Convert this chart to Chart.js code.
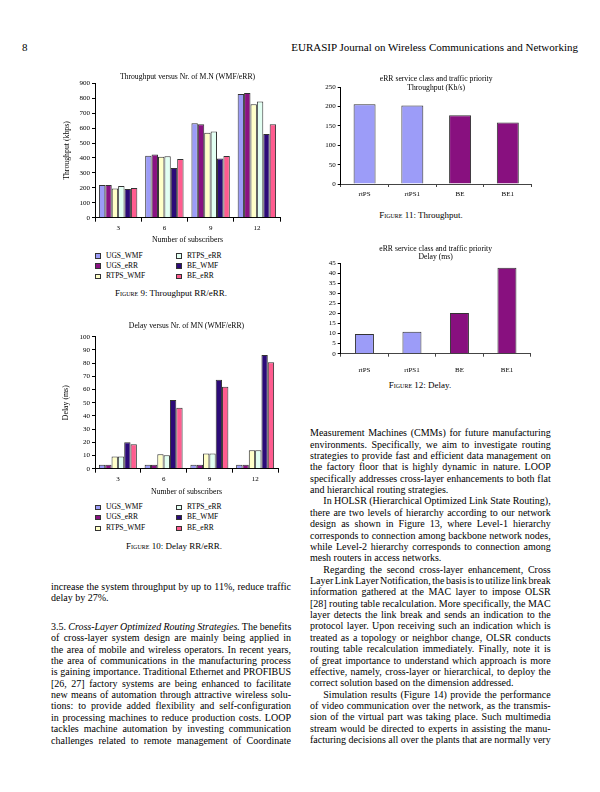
<!DOCTYPE html>
<html><head><meta charset="utf-8">
<script src="https://cdn.jsdelivr.net/npm/chart.js@4/dist/chart.umd.min.js"></script>
<style>
body{margin:0;background:#fff;width:600px;height:792px;position:relative;overflow:hidden;font-family:'Liberation Serif',serif;color:#000}
canvas{position:absolute}
.ln{position:absolute;white-space:nowrap;font-size:10px;line-height:11.37px}
.hdr{position:absolute;font-size:11px;line-height:13px;white-space:nowrap}
.cap{position:absolute;font-size:9px;line-height:11px;white-space:nowrap;transform:translateX(-50%)}
.cap .sc{font-variant:small-caps}
.lg{position:absolute;font-size:7.5px;line-height:10px;white-space:nowrap}
.mk{position:absolute;width:3.5px;height:3.5px;border:1px solid #333}
</style></head>
<body>
<div class="hdr" style="left:22px;top:41px">8</div>
<div class="hdr" style="right:22px;top:41px">EURASIP Journal on Wireless Communications and Networking</div>

<canvas id="c1" width="250" height="185" style="left:40px;top:65px"></canvas>
<div id="lg1"></div>
<div class="cap" style="left:171px;top:288px"><span class="sc">Figure</span> 9: Throughput RR/eRR.</div>

<canvas id="c2" width="250" height="185" style="left:40px;top:315px"></canvas>
<div id="lg2"></div>
<div class="cap" style="left:174px;top:541px"><span class="sc">Figure</span> 10: Delay RR/eRR.</div>

<canvas id="c3" width="240" height="135" style="left:300px;top:65px"></canvas>
<div class="cap" style="left:421px;top:209.5px"><span class="sc">Figure</span> 11: Throughput.</div>

<canvas id="c4" width="240" height="145" style="left:300px;top:235px"></canvas>
<div class="cap" style="left:420px;top:379.5px"><span class="sc">Figure</span> 12: Delay.</div>

<script>
// ---- data ----
const subscribers = ['3', '6', '9', '12'];
const seriesNames = ['UGS_WMF', 'UGS_eRR', 'RTPS_WMF', 'RTPS_eRR', 'BE_WMF', 'BE_eRR'];

// Figure 9: throughput (kbps)
const tpUGS_WMF  = [219, 415, 632, 828];
const tpUGS_eRR  = [219, 424, 625, 835];
const tpRTPS_WMF = [196, 408, 569, 759];
const tpRTPS_eRR = [212, 411, 578, 779];
const tpBE_WMF   = [192, 333, 397, 560];
const tpBE_eRR   = [199, 393, 413, 625];

// Figure 10: delay (ms)
const dlUGS_WMF  = [3, 3, 3, 3];
const dlUGS_eRR  = [3, 3, 3, 3];
const dlRTPS_WMF = [9.3, 10.9, 11.6, 13.9];
const dlRTPS_eRR = [9.3, 10.1, 11.6, 13.9];
const dlBE_WMF   = [20, 52, 67.4, 86.1];
const dlBE_eRR   = [18.5, 46.2, 62.1, 80.6];

// Figures 11/12: eRR service class and traffic priority
const classes = ['rtPS', 'rtPS1', 'BE', 'BE1'];
const classThroughput = [206, 203, 178, 159];
const classDelay = [9.8, 10.9, 20.2, 42.7];

// ---- styles ----
const seriesColors = ['#9C9CF8', '#8A1282', '#FFFFC8', '#E2FFF2', '#2C0A78', '#FF5C8F'];
const classColors = ['#9C9CF8', '#9C9CF8', '#88107F', '#88107F'];
const serif = 'Liberation Serif';
const f = (size, lh) => ({family: serif, size: size, weight: 'normal', lineHeight: lh || 1.17});

function groupedChart(id, values, o) {
  return new Chart(document.getElementById(id), {
    type: 'bar',
    data: {
      labels: subscribers,
      datasets: seriesNames.map((n, i) => ({
        label: n, data: values[i], backgroundColor: seriesColors[i],
        borderColor: '#333', borderWidth: 1,
        categoryPercentage: 0.83, barPercentage: 1
      }))
    },
    options: {
      responsive: false, animation: false,
      layout: {padding: {left: 0, right: o.padRight, top: 0, bottom: 0}},
      plugins: {
        legend: {display: false}, tooltip: {enabled: false},
        title: {display: true, text: o.title, font: f(7.7), color: '#000', fullSize: false,
                padding: {top: o.tTop, bottom: o.tBottom}}
      },
      scales: {
        x: {
          grid: {drawOnChartArea: false, drawTicks: true, tickLength: 4, color: '#000'},
          border: {color: '#000', width: 1},
          ticks: {font: f(7), color: '#000', padding: 2, maxRotation: 0},
          title: {display: true, text: 'Number of subscribers', font: f(7.8), color: '#000',
                  padding: {top: 0, bottom: o.xTitlePad}},
          afterFit: s => { s.height = o.xHeight; }
        },
        y: {
          min: 0, max: o.max,
          ticks: {stepSize: o.step, font: f(7), color: '#000', padding: 2, autoSkip: false},
          grid: {drawOnChartArea: false, tickLength: 3, color: '#000'},
          border: {color: '#000', width: 1},
          title: {display: true, text: o.yTitle, font: f(7.8), color: '#000',
                  padding: {top: o.yTitlePad, bottom: 0}},
          afterFit: s => { s.width = 55; }
        }
      }
    }
  });
}

function classChart(id, values, o) {
  return new Chart(document.getElementById(id), {
    type: 'bar',
    data: {
      labels: classes,
      datasets: [{data: values, backgroundColor: classColors, borderColor: '#333', borderWidth: 1,
                  categoryPercentage: 1, barPercentage: o.barPct}]
    },
    options: {
      responsive: false, animation: false,
      layout: {padding: {left: 0, right: o.padRight, top: 0, bottom: 0}},
      plugins: {
        legend: {display: false}, tooltip: {enabled: false},
        title: {display: true, text: o.title, font: f(7.7, o.tLh), color: '#000', fullSize: false,
                padding: {top: o.tTop, bottom: o.tBottom}}
      },
      scales: {
        x: {
          grid: {drawOnChartArea: false, drawTicks: true, tickLength: 3, color: '#444'},
          border: {color: '#444', width: 1},
          ticks: {font: f(7), color: '#000', padding: o.xPad, maxRotation: 0},
          afterFit: s => { s.height = o.xHeight; }
        },
        y: {
          min: 0, max: o.max,
          ticks: {stepSize: o.step, font: f(7), color: '#000', padding: 2, autoSkip: false},
          grid: {drawOnChartArea: false, tickLength: 3, color: '#000'},
          border: {color: '#000', width: 1},
          afterFit: s => { s.width = 40.7; }
        }
      }
    }
  });
}

groupedChart('c1', [tpUGS_WMF, tpUGS_eRR, tpRTPS_WMF, tpRTPS_eRR, tpBE_WMF, tpBE_eRR], {
  title: 'Throughput versus Nr. of M.N (WMF/eRR)', yTitle: 'Throughput (kbps)',
  max: 900, step: 100, padRight: 10, tTop: 7.5, tBottom: 1.8,
  xHeight: 32.3, xTitlePad: 5.4, yTitlePad: 22.7
});
groupedChart('c2', [dlUGS_WMF, dlUGS_eRR, dlRTPS_WMF, dlRTPS_eRR, dlBE_WMF, dlBE_eRR], {
  title: 'Delay versus Nr. of MN (WMF/eRR)', yTitle: 'Delay (ms)',
  max: 100, step: 10, padRight: 12, tTop: 6.2, tBottom: 6.5,
  xHeight: 31.3, xTitlePad: 3.7, yTitlePad: 21.1
});
classChart('c3', classThroughput, {
  title: ['eRR service class and traffic priority', 'Throughput (Kb/s)'], tLh: 1.17,
  max: 250, step: 50, padRight: 8.3, tTop: 9.5, tBottom: -5.2, xHeight: 16, xPad: 3, barPct: 0.46
});
classChart('c4', classDelay, {
  title: ['eRR service class and traffic priority', 'Delay (ms)'], tLh: 1.0,
  max: 45, step: 5, padRight: 9.3, tTop: 10.15, tBottom: 2.45, xHeight: 26.3, xPad: 9, barPct: 0.4
});

// ---- HTML legends (two columns, built from the series arrays) ----
function legend(hostId, rowTops) {
  const host = document.getElementById(hostId);
  seriesNames.forEach((n, i) => {
    const col = Math.floor(i / 3), row = i % 3;
    const mx = col ? 176 : 95, tx = col ? 187 : 106;
    const cy = rowTops[row];
    const m = document.createElement('div');
    m.className = 'mk';
    m.style.left = mx + 'px'; m.style.top = (cy - 2.75) + 'px';
    m.style.background = seriesColors[i];
    host.appendChild(m);
    const t = document.createElement('div');
    t.className = 'lg';
    t.style.left = tx + 'px'; t.style.top = (cy - 5.5) + 'px';
    t.textContent = n;
    host.appendChild(t);
  });
}
legend('lg1', [256, 266, 276.3]);
legend('lg2', [507.7, 517.7, 528.3]);

// ---- body text, justified line by line ----
function block(lines, left, top0, width, lh) {
  lines.forEach((ln, i) => {
    const ind = ln.i ? 13.3 : 0;
    const d = document.createElement('div');
    d.className = 'ln';
    d.style.left = (left + ind) + 'px';
    d.style.top = (top0 + i * lh) + 'px';
    d.innerHTML = ln.h;
    document.body.appendChild(d);
    if (!ln.last) {
      const nat = d.getBoundingClientRect().width;
      const sp = (d.textContent.match(/ /g) || []).length;
      if (sp) d.style.wordSpacing = ((width - ind - nat) / sp) + 'px';
    }
  });
}
const LH = 11.37;
block([
  {h: 'increase the system throughput by up to 11%, reduce traffic'},
  {h: 'delay by 27%.', last: true}
], 51, 580.5, 240, LH);
block([
  {h: '3.5. <i>Cross-Layer Optimized Routing Strategies.</i>  The benefits'},
  {h: 'of cross-layer system design are mainly being applied in'},
  {h: 'the area of mobile and wireless operators. In recent years,'},
  {h: 'the area of communications in the manufacturing process'},
  {h: 'is gaining importance. Traditional Ethernet and PROFIBUS'},
  {h: '[26, 27] factory systems are being enhanced to facilitate'},
  {h: 'new means of automation through attractive wireless solu-'},
  {h: 'tions: to provide added flexibility and self-configuration'},
  {h: 'in processing machines to reduce production costs. LOOP'},
  {h: 'tackles machine automation by investing communication'},
  {h: 'challenges related to remote management of Coordinate'}
], 51, 620.8, 240, LH);
block([
  {h: 'Measurement Machines (CMMs) for future manufacturing'},
  {h: 'environments. Specifically, we aim to investigate routing'},
  {h: 'strategies to provide fast and efficient data management on'},
  {h: 'the factory floor that is highly dynamic in nature. LOOP'},
  {h: 'specifically addresses cross-layer enhancements to both flat'},
  {h: 'and hierarchical routing strategies.', last: true},
  {h: 'In HOLSR (Hierarchical Optimized Link State Routing),', i: 1},
  {h: 'there are two levels of hierarchy according to our network'},
  {h: 'design as shown in Figure 13, where Level-1 hierarchy'},
  {h: 'corresponds to connection among backbone network nodes,'},
  {h: 'while Level-2 hierarchy corresponds to connection among'},
  {h: 'mesh routers in access networks.', last: true},
  {h: 'Regarding the second cross-layer enhancement, Cross', i: 1},
  {h: 'Layer Link Layer Notification, the basis is to utilize link break'},
  {h: 'information gathered at the MAC layer to impose OLSR'},
  {h: '[28] routing table recalculation. More specifically, the MAC'},
  {h: 'layer detects the link break and sends an indication to the'},
  {h: 'protocol layer. Upon receiving such an indication which is'},
  {h: 'treated as a topology or neighbor change, OLSR conducts'},
  {h: 'routing table recalculation immediately. Finally, note it is'},
  {h: 'of great importance to understand which approach is more'},
  {h: 'effective, namely, cross-layer or hierarchical, to deploy the'},
  {h: 'correct solution based on the dimension addressed.', last: true},
  {h: 'Simulation results (Figure 14) provide the performance', i: 1},
  {h: 'of video communication over the network, as the transmis-'},
  {h: 'sion of the virtual part was taking place. Such multimedia'},
  {h: 'stream would be directed to experts in assisting the manu-'},
  {h: 'facturing decisions all over the plants that are normally very'}
], 310, 427.2, 240.7, LH);
</script>
</body></html>
